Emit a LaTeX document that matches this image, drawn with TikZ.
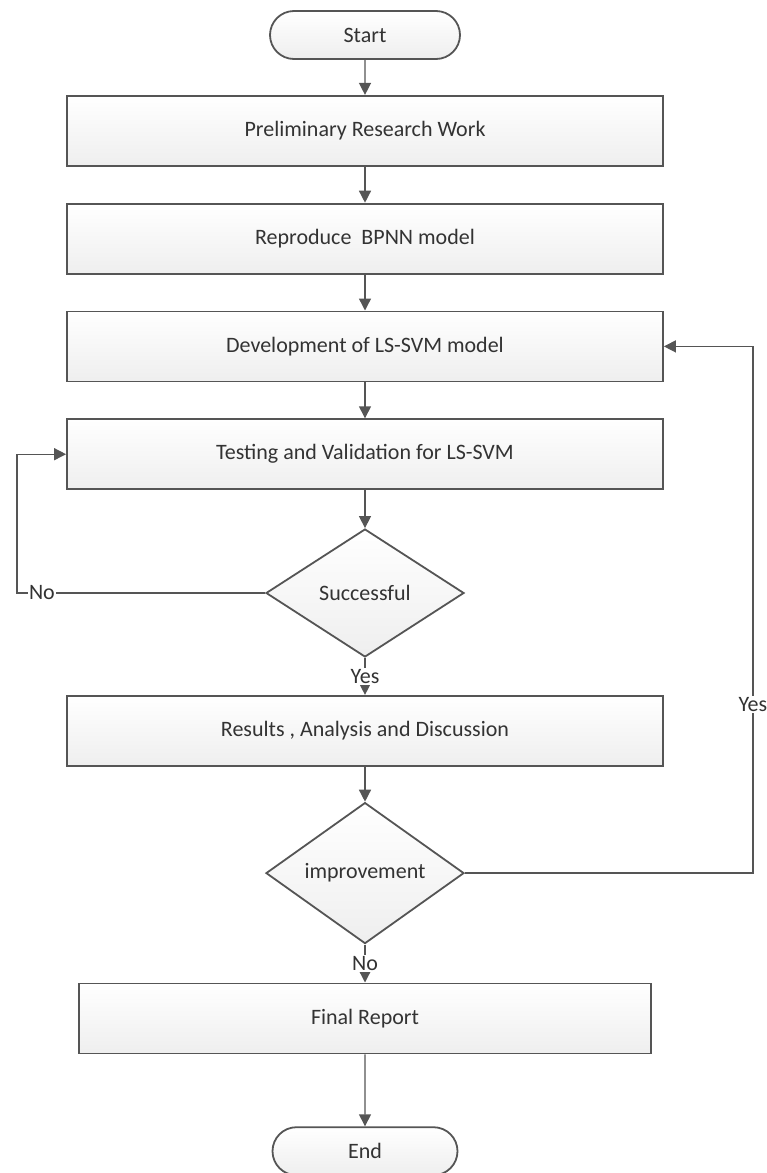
\documentclass[tikz,border=0pt]{standalone}
\usepackage{fontspec}
\setmainfont{Carlito}
\usepackage{xcolor}
\usetikzlibrary{arrows.meta, positioning, calc, shapes.geometric, shapes.misc}
\definecolor{edge}{HTML}{555555}
\definecolor{ink}{HTML}{333333}

\tikzset{
    base/.style={draw=edge, line width=1.8pt, top color=white, bottom color=gray!13,
        font=\fontsize{22}{26}\selectfont\color{ink}, inner sep=0pt},
    terminal/.style={base, rounded rectangle, minimum width=190pt, minimum height=48pt},
    process/.style={base, rectangle, minimum width=596pt, minimum height=70pt},
    decision/.style={base, diamond, minimum width=198pt, minimum height=128pt},
    link/.style={draw=edge, line width=1.4pt, -{Triangle[length=12pt, width=12pt]}},
    tag/.style={font=\fontsize{22}{26}\selectfont\color{ink}, fill=white, inner sep=1pt},
}

\begin{document}
\begin{tikzpicture}[x=1pt, y=-1pt, node distance=36pt]
    \useasboundingbox (0,0) rectangle (767,1173);

    % Main column
    \node[terminal] (start) at (365,35) {Start};
    \node[process, below=35pt of start] (prelim) {Preliminary Research Work};
    \node[process, below=of prelim] (bpnn) {Reproduce\ \ BPNN model};
    \node[process, below=of bpnn] (dev) {Development of LS-SVM model};
    \node[process, below=of dev] (test) {Testing and Validation for LS-SVM};
    \node[decision, below=38pt of test] (succ) {Successful};
    \node[process, below=37pt of succ] (results) {Results , Analysis and Discussion};
    \node[decision, below=35pt of results, minimum height=141pt] (impr) {improvement};
    \node[process, below=38pt of impr, minimum width=572pt] (final) {Final Report};
    \node[terminal, below=72pt of final, minimum width=185pt] (end) {End};

    % Straight links
    \draw[link] (start) -- (prelim);
    \draw[link] (prelim) -- (bpnn);
    \draw[link] (bpnn) -- (dev);
    \draw[link] (dev) -- (test);
    \draw[link] (test) -- (succ);
    \draw[link] (succ) -- node[tag] {Yes} (results);
    \draw[link] (results) -- (impr);
    \draw[link] (impr) -- node[tag] {No} (final);
    \draw[link] (final) -- (end);

    % Feedback loops
    \coordinate (noturn) at ($(succ.west)+(-248,0)$);
    \draw[link] (succ.west) -- node[tag, pos=0.9] {No} (noturn) |- (test.west);
    \coordinate (yesturn) at ($(impr.east)+(288,0)$);
    \draw[link] (impr.east) -- (yesturn) -- node[tag, pos=0.32] {Yes} (yesturn |- dev.east) -- (dev.east);
\end{tikzpicture}
\end{document}
